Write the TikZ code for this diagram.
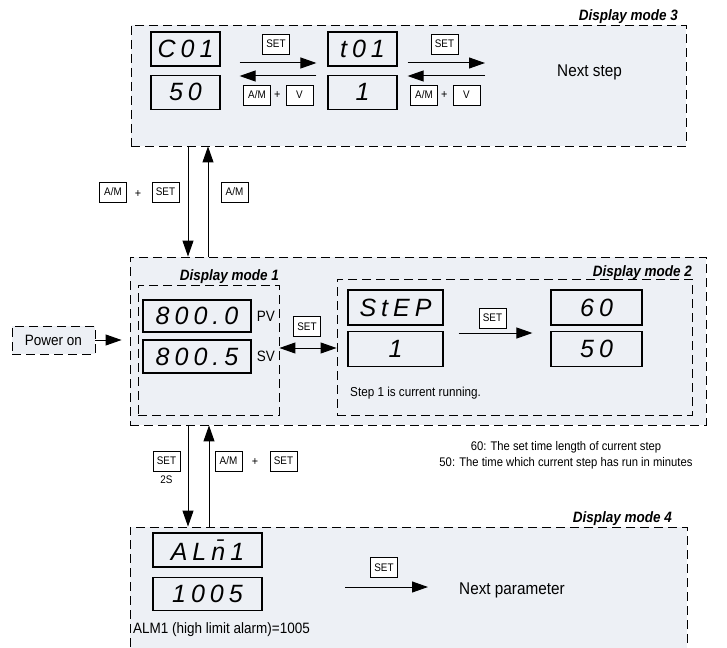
\documentclass[tikz,border=0pt]{standalone}
\usepackage{fontspec}
\setmainfont{Liberation Sans}[FakeStretch=0.9]
\newfontfamily\segfont{Liberation Sans}[LetterSpace=20]
\usetikzlibrary{positioning,fit,arrows.meta}
\definecolor{panelgrey}{HTML}{EDF0F5}
\tikzset{
  modebox/.style={draw, dash pattern=on 9pt off 5pt, line width=0.9pt, fill=panelgrey, inner sep=0pt},
  lcd/.style={draw, line width=1.2pt, fill=panelgrey, minimum width=69pt, minimum height=34pt, inner sep=0pt, font=\segfont\itshape\fontsize{25}{25}\selectfont},
  key/.style={draw, fill=white, line width=0.8pt, minimum width=27pt, minimum height=20pt, inner sep=1pt, font=\fontsize{11}{11}\selectfont},
  bigarrow/.style={-{Triangle[length=16pt,width=11pt]}, line width=1pt},
  modelabel/.style={anchor=base east, inner sep=0pt, font=\bfseries\itshape\fontsize{15}{15}\selectfont}
}
\begin{document}
\begin{tikzpicture}[x=1pt, y=-1pt]
\clip (0,0) rectangle (727,647);

\node (mode3) at (408.5,85.5) [modebox, minimum width=555pt, minimum height=121pt] {};
\node (m3_lbl) at (678,21) [modelabel] {Display mode 3};
\node (m3_c01) at (185.5,49) [lcd] {C01};
\node (m3_50) at (m3_c01.south) [lcd, below=8pt] {50};
\node (m3_t01) at (362.5,49) [lcd] {t01};
\node (m3_1) at (m3_t01.south) [lcd, below=8pt] {1};
\node (m3_next) at (557,72) [anchor=west, inner sep=0pt, font=\fontsize{17}{17}\selectfont] {Next step};

\node (m3_set1) at (276,44) [key] {SET};
\node (m3_am1) at (257,95) [key] {A/M};
\node (m3_plus1) at (m3_am1.east) [right=3pt, inner sep=0pt, font=\fontsize{12}{12}\selectfont] {+};
\node (m3_v1) at (m3_plus1.east) [key, right=5pt] {V};
\node (m3_set2) at (444.5,44) [key] {SET};
\node (m3_am2) at (424,95) [key] {A/M};
\node (m3_plus2) at (m3_am2.east) [right=3pt, inner sep=0pt, font=\fontsize{12}{12}\selectfont] {+};
\node (m3_v2) at (m3_plus2.east) [key, right=5pt] {V};

\draw [bigarrow, shorten <=19pt, shorten >=11pt] (m3_c01.east |- 0,63) -- (m3_t01.west |- 0,63);
\draw [bigarrow, shorten <=11pt, shorten >=19pt] (m3_t01.west |- 0,76) -- (m3_c01.east |- 0,76);
\draw [bigarrow, shorten <=10pt, shorten >=72pt] (m3_t01.east |- 0,63) -- (m3_next.west |- 0,63);
\draw [bigarrow, shorten <=72pt, shorten >=10pt] (m3_next.west |- 0,76) -- (m3_t01.east |- 0,76);

\node (mode1) at (418,341) [modebox, minimum width=576pt, minimum height=168pt] {};
\node (dm1) at (208.5,350) [modebox, minimum width=141pt, minimum height=130pt] {};
\node (dm1_lbl) at (279,280) [modelabel] {Display mode 1};
\node (dm1_pv) at (197,316) [lcd, minimum width=108pt, minimum height=32pt] {800.0};
\node (dm1_sv) at (197,356.5) [lcd, minimum width=108pt, minimum height=33pt] {800.5};
\node (dm1_pvtxt) at (dm1_pv.east) [right=5pt, font=\fontsize{15}{15}\selectfont, inner sep=0pt] {PV};
\node (dm1_svtxt) at (dm1_sv.east) [right=5pt, font=\fontsize{15}{15}\selectfont, inner sep=0pt] {SV};

\node (power) at (53.5,340) [modebox, minimum width=83pt, minimum height=28pt, font=\fontsize{15}{15}\selectfont] {Power on};
\draw [bigarrow, shorten >=8pt] (power.east) -- (power.east -| mode1.west);

\node (mode2) at (514.5,347) [modebox, minimum width=355pt, minimum height=136pt] {};
\node (m2_lbl) at (692,276) [modelabel] {Display mode 2};
\node (m2_step) at (395.5,307.5) [lcd, minimum width=95pt, minimum height=35pt] {StEP};
\node (m2_1) at (m2_step.south) [lcd, minimum width=95pt, minimum height=35pt, below=5pt] {1};
\node (m2_60) at (596.5,307.5) [lcd, minimum width=91pt, minimum height=35pt] {60};
\node (m2_50) at (m2_60.south) [lcd, minimum width=91pt, minimum height=35pt, below=5pt] {50};
\node (m2_set) at (492.5,318) [key] {SET};
\draw [bigarrow, shorten <=15pt, shorten >=18pt] (m2_step.east |- 0,333) -- (m2_60.west |- 0,333);
\node (m2_txt) at (350,393) [anchor=west, inner sep=0pt, font=\fontsize{13}{13}\selectfont] {Step 1 is current running.};

\node (dm1_set) at (307,326.5) [key] {SET};
\draw [{Triangle[length=16pt,width=11pt]}-{Triangle[length=16pt,width=11pt]}, line width=1pt] (dm1.east |- 0,348) -- (mode2.west |- 0,348);

\node (note60) at (566,447) [font=\fontsize{12.5}{12.5}\selectfont, inner sep=0pt] {60: The set time length of current step};
\node (note50) at (566,463) [font=\fontsize{12.5}{12.5}\selectfont, inner sep=0pt] {50: The time which current step has run in minutes};

\draw [bigarrow] (mode3.south -| 188,0) -- (mode1.north -| 188,0);
\draw [bigarrow] (mode1.north -| 208,0) -- (mode3.south -| 208,0);
\node (k31_am) at (113,192) [key] {A/M};
\node (k31_plus) at (138,194) [inner sep=0pt, font=\fontsize{12}{12}\selectfont] {+};
\node (k31_set) at (165.5,192) [key] {SET};
\node (k13_am) at (234.5,192) [key] {A/M};

\node (mode4) at (408.5,593.5) [modebox, minimum width=557pt, minimum height=133pt] {};
\node (m4_lbl) at (672,522) [modelabel] {Display mode 4};
\node (m4_alm) at (207.5,550) [lcd, minimum width=109pt] {AL\=n1};
\node (m4_val) at (m4_alm.south) [lcd, minimum width=109pt, minimum height=33pt, below=9pt] {1005};
\node (m4_txt) at (133,630) [anchor=west, inner sep=0pt, font=\fontsize{15}{15}\selectfont] {ALM1 (high limit alarm)=1005};
\node (m4_next) at (459,590) [anchor=west, inner sep=0pt, font=\fontsize{17}{17}\selectfont] {Next parameter};
\node (m4_set) at (384,567.5) [key] {SET};
\coordinate (m4_arr) at (345,587);
\draw [bigarrow, shorten >=31pt] (m4_arr) -- (m4_next.west |- m4_arr);

\draw [bigarrow] (mode1.south -| 188,0) -- (mode4.north -| 188,0);
\draw [bigarrow] (mode4.north -| 209,0) -- (mode1.south -| 209,0);
\node (k14_set) at (166.5,461) [key] {SET};
\node (k14_2s) at (k14_set.south) [below=4pt, inner sep=0pt, font=\fontsize{11}{11}\selectfont] {2S};
\node (k41_am) at (228.5,461) [key] {A/M};
\node (k41_plus) at (255,462) [inner sep=0pt, font=\fontsize{12}{12}\selectfont] {+};
\node (k41_set) at (283.5,461) [key] {SET};

\end{tikzpicture}
\end{document}
